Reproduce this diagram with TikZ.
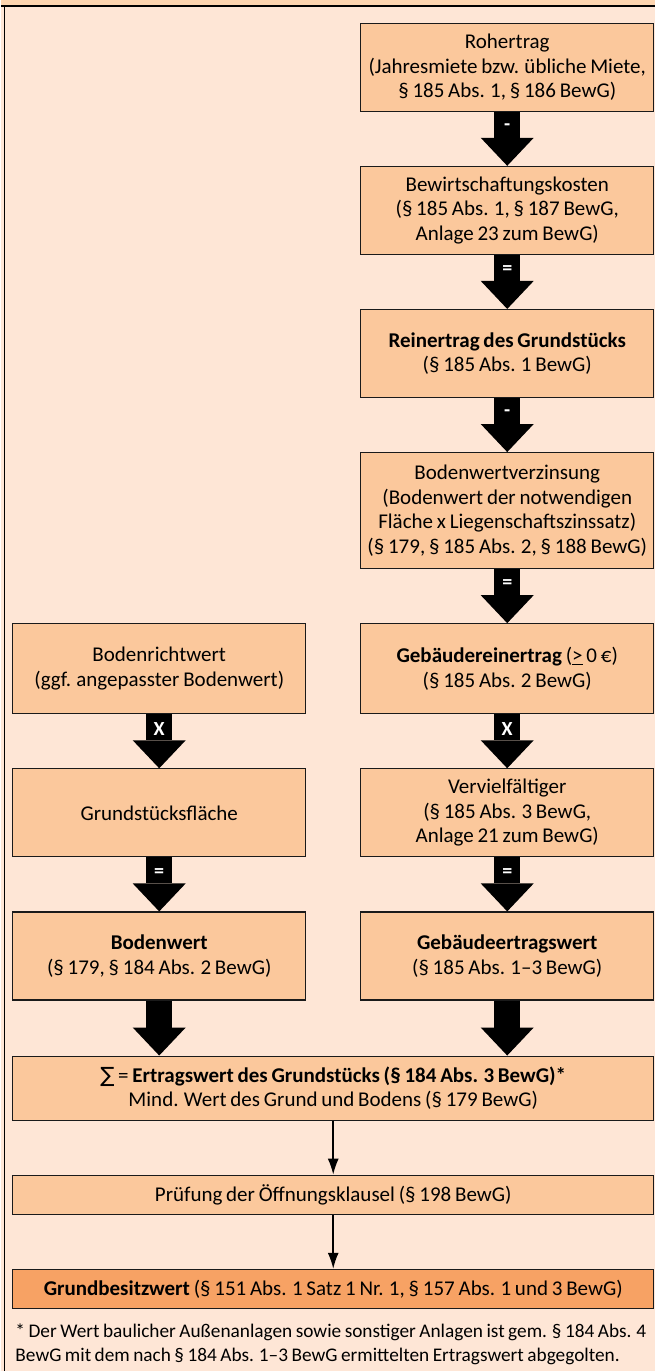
\documentclass[tikz,border=0pt]{standalone}
\usepackage{fontspec}
\setmainfont{Carlito}[WordSpace=0.8]
\newfontfamily\symbolfont{DejaVu Sans}
\usepackage{xcolor}
\usepackage{tikz}
\usetikzlibrary{positioning,calc,arrows.meta}
\definecolor{panelfill}{HTML}{FEE6D6}
\definecolor{bandfill}{HTML}{FDD5B0}
\definecolor{boxfill}{HTML}{FBC89C}
\definecolor{endfill}{HTML}{F7A264}
\definecolor{boxline}{HTML}{1A1A1A}

\begin{document}
\begin{tikzpicture}[
box/.style={rectangle, draw=boxline, fill=boxfill, line width=1.2pt, minimum width=293pt, minimum height=88pt, align=center, inner xsep=2pt, inner ysep=8pt, font=\fontsize{21pt}{24.5pt}\selectfont},
widebox/.style={box, minimum width=641pt, minimum height=39pt},
opsign/.style={text=white, inner sep=0pt, font=\fontsize{20pt}{20pt}\selectfont\bfseries},
blockarrow/.style={line width=26pt, -{Triangle[length=28pt, width=53pt, line width=0pt]}},
thinarrow/.style={line width=1.5pt, -{Latex[length=16pt, width=11pt]}},
node distance=54pt,
]
%Background
\fill[panelfill] (0,0) rectangle (654pt,-1372pt);
\fill[bandfill] (0,0) rectangle (654pt,-6.5pt);
\draw[line width=2pt] (0,-6.5pt) -- (654pt,-6.5pt);
\draw[line width=1.5pt] (3.5pt,-6.5pt) -- (3.5pt,-1372pt);
\useasboundingbox (0,0) rectangle (654pt,-1372pt);

%Nodes
\node[box, anchor=north](Rohertrag) at (506.5pt,-22.7pt){Rohertrag\\(Jahresmiete bzw. übliche Miete,\\§ 185 Abs. 1, § 186 BewG)};
\node[box](Bewirtschaftung)[below=of Rohertrag]{Bewirtschaftungskosten\\(§ 185 Abs. 1, § 187 BewG,\\Anlage 23 zum BewG)};
\node[box](Reinertrag)[below=of Bewirtschaftung]{\textbf{Reinertrag des Grundstücks}\\(§ 185 Abs. 1 BewG)};
\node[box, minimum height=116pt](Verzinsung)[below=of Reinertrag]{Bodenwertverzinsung\\(Bodenwert der notwendigen\\Fläche x Liegenschaftszinssatz)\\(§ 179, § 185 Abs. 2, § 188 BewG)};
\node[box, minimum height=90pt](Gebaeudereinertrag)[below=of Verzinsung]{\textbf{Gebäudereinertrag} (\underline{>} 0 €)\\(§ 185 Abs. 2 BewG)};
\node[box](Vervielfaeltiger)[below=of Gebaeudereinertrag]{Vervielfältiger\\(§ 185 Abs. 3 BewG,\\Anlage 21 zum BewG)};
\node[box](Gebaeudeertragswert)[below=of Vervielfaeltiger]{\textbf{Gebäudeertragswert}\\(§ 185 Abs. 1–3 BewG)};
\node[box, minimum height=90pt](Bodenrichtwert)[left=54pt of Gebaeudereinertrag]{Bodenrichtwert\\(ggf. angepasster Bodenwert)};
\node[box](Flaeche)[below=of Bodenrichtwert]{Grundstücksfläche};
\node[box](Bodenwert)[below=of Flaeche]{\textbf{Bodenwert}\\(§ 179, § 184 Abs. 2 BewG)};
\coordinate (Mitte) at ($(Bodenwert.south)!0.5!(Gebaeudeertragswert.south)$);
\node[widebox, minimum height=64pt](Ertragswert)[below=55pt of Mitte]{{\symbolfont ∑} = \textbf{Ertragswert des Grundstücks (§ 184 Abs. 3 BewG)*}\\Mind. Wert des Grund und Bodens (§ 179 BewG)};
\node[widebox](Pruefung)[below=of Ertragswert]{Prüfung der Öffnungsklausel (§ 198 BewG)};
\node[widebox, fill=endfill](Grundbesitzwert)[below=of Pruefung]{\textbf{Grundbesitzwert} (§ 151 Abs. 1 Satz 1 Nr. 1, § 157 Abs. 1 und 3 BewG)};
\node[anchor=north west, align=left, inner sep=0pt, font=\fontsize{19.3pt}{24pt}\selectfont](Fussnote) at ([xshift=3pt, yshift=-15pt]Grundbesitzwert.south west){* Der Wert baulicher Außenanlagen sowie sonstiger Anlagen ist gem. § 184 Abs. 4\\BewG mit dem nach § 184 Abs. 1–3 BewG ermittelten Ertragswert abgegolten.};

%Lines
\draw[blockarrow] (Rohertrag.south) -- node[opsign, pos=0.28]{-} (Bewirtschaftung.north);
\draw[blockarrow] (Bewirtschaftung.south) -- node[opsign, pos=0.28]{=} (Reinertrag.north);
\draw[blockarrow] (Reinertrag.south) -- node[opsign, pos=0.28]{-} (Verzinsung.north);
\draw[blockarrow] (Verzinsung.south) -- node[opsign, pos=0.28]{=} (Gebaeudereinertrag.north);
\draw[blockarrow] (Gebaeudereinertrag.south) -- node[opsign, pos=0.28]{X} (Vervielfaeltiger.north);
\draw[blockarrow] (Vervielfaeltiger.south) -- node[opsign, pos=0.28]{=} (Gebaeudeertragswert.north);
\draw[blockarrow] (Bodenrichtwert.south) -- node[opsign, pos=0.28]{X} (Flaeche.north);
\draw[blockarrow] (Flaeche.south) -- node[opsign, pos=0.28]{=} (Bodenwert.north);
\draw[blockarrow] (Bodenwert.south) -- (Bodenwert.south |- Ertragswert.north);
\draw[blockarrow] (Gebaeudeertragswert.south) -- (Gebaeudeertragswert.south |- Ertragswert.north);
\draw[thinarrow] (Ertragswert.south) -- (Pruefung.north);
\draw[thinarrow] (Pruefung.south) -- (Grundbesitzwert.north);
\end{tikzpicture}
\end{document}
